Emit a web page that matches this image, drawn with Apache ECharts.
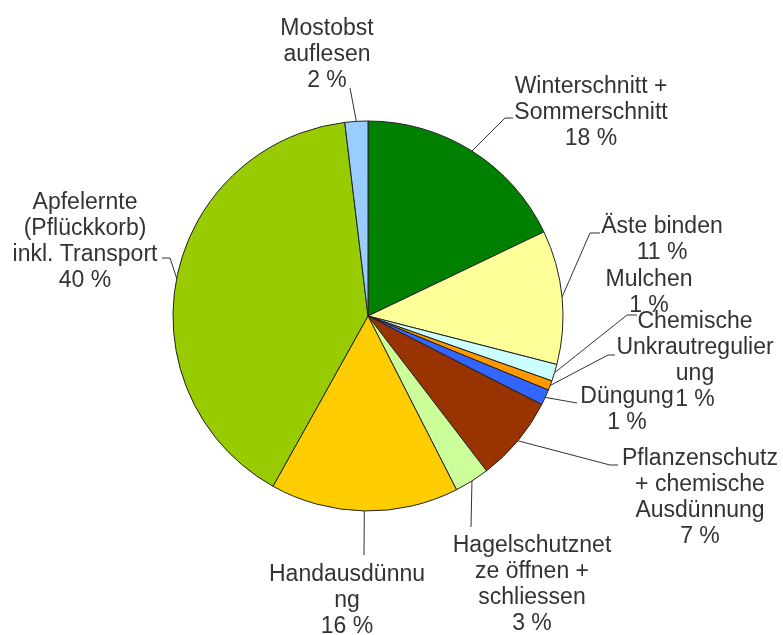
<!DOCTYPE html>
<html>
<head>
<meta charset="utf-8">
<script src="https://cdn.jsdelivr.net/npm/echarts@6/dist/echarts.min.js"></script>
<style>
  html, body { margin: 0; padding: 0; background: #fff; }
  #main { width: 783px; height: 635px; }
</style>
</head>
<body>
<div id="main"></div>
<script>
var names = ['Winterschnitt + Sommerschnitt', 'Äste binden', 'Mulchen',
    'Chemische Unkrautregulierung', 'Düngung', 'Pflanzenschutz + chemische Ausdünnung',
    'Hagelschutznetze öffnen + schliessen', 'Handausdünnung',
    'Apfelernte (Pflückkorb) inkl. Transport', 'Mostobst auflesen'];
// label text with the line breaks as in the original
var labelTexts = ['Winterschnitt +\nSommerschnitt', 'Äste binden', 'Mulchen',
    'Chemische\nUnkrautregulier\nung', 'Düngung', 'Pflanzenschutz\n+ chemische\nAusdünnung',
    'Hagelschutznet\nze öffnen +\nschliessen', 'Handausdünnu\nng',
    'Apfelernte\n(Pflückkorb)\ninkl. Transport', 'Mostobst\nauflesen'];
var values = [17.9, 11.1, 1.4, 0.8, 1.3, 7.1, 2.9, 15.6, 40.0, 1.9];
var colors = ['#008000', '#ffff99', '#ccffff', '#ff9900', '#3366ff',
    '#993300', '#ccff99', '#ffcc00', '#99cc00', '#99ccff'];

// label block centres and leader line bends
var labelPos = [[591, 113], [662, 240], [649, 293], [695, 361], [627, 410],
    [700, 498], [532, 585], [347, 601], [85, 242], [327, 55]];
var leaderBend = [[505, 118], [590, 233], [627, 315], [608, 355], [577, 403],
    [610, 465], [471, 527], [364, 555], [170, 258], [350, 88]];
var leaderEnd = [[513, 118], [600, 233], [637, 315], [615, 355], [577, 403],
    [618, 465], [471, 527], [364, 555], [162, 258], [350, 88]];

var chartDom = document.getElementById('main');
var myChart = echarts.init(chartDom, null, { renderer: 'canvas' });

var option = {
    backgroundColor: '#fff',
    animation: false,
    series: [
        {
            type: 'pie',
            center: [368, 316],
            radius: 195,
            startAngle: 90,
            clockwise: true,
            avoidLabelOverlap: false,
            data: names.map(function (n, i) {
                return { name: n, value: values[i], itemStyle: { color: colors[i] } };
            }),
            itemStyle: { borderColor: '#222', borderWidth: 1 },
            label: {
                show: true,
                position: 'outside',
                color: '#333',
                fontFamily: 'Liberation Sans',
                fontSize: 23,
                lineHeight: 26,
                formatter: function (p) {
                    return labelTexts[p.dataIndex] + '\n' + Math.round(p.percent) + ' %';
                }
            },
            labelLine: {
                show: true,
                smooth: false,
                length: 10,
                length2: 10,
                lineStyle: { color: '#333', width: 1 }
            },
            labelLayout: function (params) {
                var i = params.dataIndex;
                var start = params.labelLinePoints ? params.labelLinePoints[0] : leaderBend[i];
                return {
                    x: labelPos[i][0],
                    y: labelPos[i][1],
                    align: 'center',
                    verticalAlign: 'middle',
                    labelLinePoints: [start, leaderBend[i], leaderEnd[i]]
                };
            },
            emphasis: { disabled: true }
        }
    ]
};

option && myChart.setOption(option);
</script>
</body>
</html>
